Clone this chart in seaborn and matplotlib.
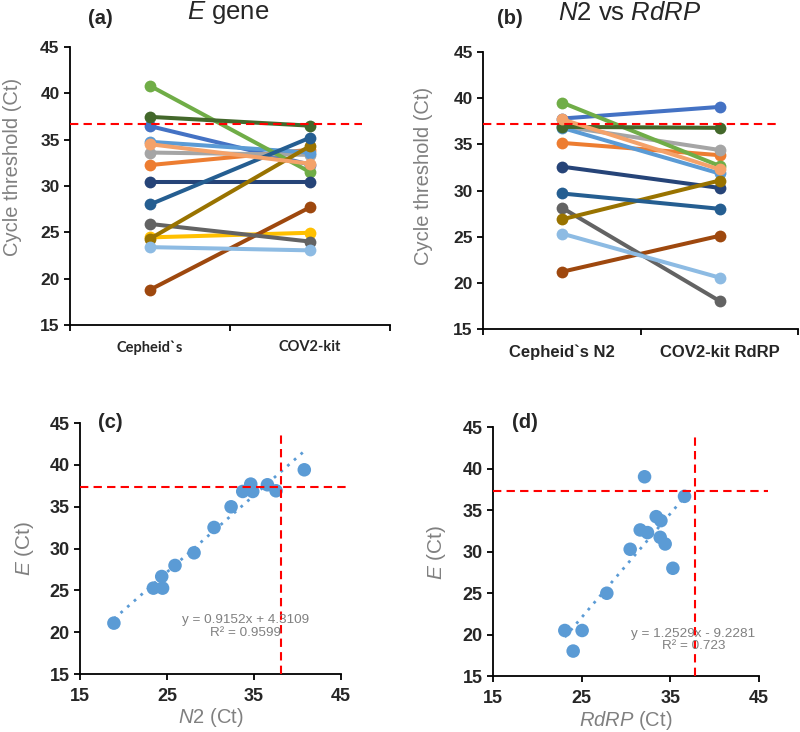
import numpy as np
import pandas as pd
import matplotlib.pyplot as plt
import seaborn as sns

sns.set_style("ticks")
plt.rcParams["font.family"] = ["Liberation Sans", "DejaVu Sans"]
plt.rcParams["mathtext.fontset"] = "custom"
plt.rcParams["mathtext.it"] = "Liberation Sans:italic"
plt.rcParams["mathtext.rm"] = "Liberation Sans"

# ---------------------------------------------------------------------------
# Data
# ---------------------------------------------------------------------------

# paired Ct values, series in Excel colour order (draw order)
E_COLORS = ["#4472c4", "#ed7d31", "#a5a5a5", "#ffc000", "#5b9bd5", "#70ad47",
            "#264478", "#9e480e", "#636363", "#997300", "#255e91", "#43682b",
            "#f4a26a", "#8dbbe3"]
E_CEPHEID = [36.45, 32.25, 33.6, 24.45, 34.76, 40.8, 30.4, 18.8, 25.9, 24.3,
             28.0, 37.45, 34.5, 23.4]
E_COV2KIT = [32.3, 33.9, 33.35, 24.95, 33.6, 31.5, 30.4, 27.7, 24.0, 34.3,
             35.2, 36.5, 32.4, 23.05]

N2_COLORS = ["#4472c4", "#ed7d31", "#a5a5a5", "#5b9bd5", "#70ad47", "#264478",
             "#9e480e", "#636363", "#997300", "#255e91", "#43682b", "#f4a26a",
             "#8dbbe3"]
N2_CEPHEID = [37.8, 35.17, 36.97, 36.8, 39.53, 32.6, 21.23, 28.15, 26.9, 29.7,
              36.9, 37.73, 25.36]
RDRP_COV2KIT = [39.06, 33.84, 34.4, 31.86, 32.68, 30.3, 25.12, 18.07, 31.1,
                28.04, 36.8, 32.3, 20.6]

E_LABELS = ["Cepheid`s", "COV2-kit"]
N2_LABELS = ["Cepheid`s N2", "COV2-kit RdRP"]

# scatter (c)
C_X = [18.9, 23.44, 24.5, 24.4, 25.93, 28.12, 30.42, 32.38, 33.72, 34.64,
       34.87, 36.56, 37.55, 40.8]
C_Y = [21.1, 25.28, 25.28, 26.67, 27.99, 29.5, 32.53, 35.0, 36.83, 37.71,
       36.83, 37.63, 36.91, 39.42]
C_SLOPE, C_INTERCEPT = 0.9152, 4.3109

# scatter (d)
D_X = [32.09, 36.59, 33.4, 33.93, 31.6, 32.42, 33.85, 34.41, 30.47, 35.28,
       27.84, 23.11, 25.06, 24.05]
D_Y = [39.06, 36.7, 34.25, 33.77, 32.65, 32.33, 31.76, 30.96, 30.32, 28.03,
       25.02, 20.53, 20.53, 18.05]
D_SLOPE, D_INTERCEPT = 1.2529, -9.2281

# cut-off lines
A_CUT = 36.73
B_CUT = 37.2
C_HCUT, C_VCUT = 37.31, 38.13
D_HCUT, D_VCUT = 37.3, 37.76

GRAY = "#808080"
RED = "#ff0000"
DOT_BLUE = "#5b9bd5"


def paired_frame(left, right):
    rows = []
    for i, (a, b) in enumerate(zip(left, right)):
        rows.append({"sample": i, "pos": 0.5, "ct": a})
        rows.append({"sample": i, "pos": 1.5, "ct": b})
    return pd.DataFrame(rows)


def style_axes(ax, size):
    sns.despine(ax=ax)
    for s in ("left", "bottom"):
        ax.spines[s].set_color("black")
        ax.spines[s].set_linewidth(1.3)
    ax.tick_params(axis="both", which="major", direction="out", length=4,
                   width=1.3, color="black", labelsize=size)
    for lab in ax.get_yticklabels() + ax.get_xticklabels():
        lab.set_fontweight("bold")


def paired_panel(ax, left, right, colors, labels, cut, cut_end, label_font,
                 label_size):
    df = paired_frame(left, right)
    sns.lineplot(data=df, x="pos", y="ct", hue="sample",
                 hue_order=list(range(len(left))), palette=colors,
                 marker="o", markersize=8.5, markeredgewidth=0, linewidth=2.9,
                 legend=False, errorbar=None, ax=ax)
    ax.plot([0, cut_end], [cut, cut], ls=(0, (4, 2.5)), color=RED, lw=1.5,
            zorder=5)
    ax.set_xlim(0, 2)
    ax.set_ylim(15, 45)
    ax.set_yticks(range(15, 46, 5))
    ax.set_xticks([0, 1, 2])
    ax.set_xticklabels([])
    ax.set_xticks([0.5, 1.5], minor=True)
    ax.set_xticklabels(labels, minor=True, fontweight="bold",
                       family=label_font, fontsize=label_size)
    ax.tick_params(axis="x", which="minor", length=0, pad=11)
    ax.set_xlabel("")
    ax.set_ylabel("Cycle threshold (Ct)", color=GRAY, fontsize=14.5)
    style_axes(ax, 12.5)


def scatter_panel(ax, xs, ys, slope, intercept, hcut, vcut, xlabel, eq, r2,
                  eq_xy):
    xs = np.asarray(xs)
    fit_x = np.array([xs.min(), xs.max()])
    ax.plot(fit_x, slope * fit_x + intercept, ls=(0, (1, 2.2)), color=DOT_BLUE,
            lw=2, zorder=2)
    sns.scatterplot(x=xs, y=ys, color=DOT_BLUE, s=95, edgecolor="none",
                    ax=ax, zorder=3)
    ax.plot([15, 46], [hcut, hcut], ls=(0, (4, 2.5)), color=RED, lw=1.5,
            clip_on=False, zorder=4)
    ax.plot([vcut, vcut], [15, 44], ls=(0, (4, 2.5)), color=RED, lw=1.5,
            zorder=4)
    ax.set_xlim(15, 45)
    ax.set_ylim(15, 45)
    ax.set_xticks(range(15, 46, 10))
    ax.set_yticks(range(15, 46, 5))
    ax.set_xlabel(xlabel, color=GRAY, fontsize=14.5, labelpad=1)
    ax.set_ylabel("$\\it{E}$ (Ct)", color=GRAY, fontsize=15, labelpad=10)
    ax.text(eq_xy[0], eq_xy[1], eq + "\n" + r2, color=GRAY, fontsize=9.7,
            ha="center", va="center", linespacing=1.05, zorder=5)
    style_axes(ax, 13)
    ax.tick_params(axis="x", pad=6)


fig = plt.figure(figsize=(8, 7.32), dpi=100)
ax_a = fig.add_axes([0.0875, 0.556, 0.40, 0.38])
ax_b = fig.add_axes([0.604, 0.550, 0.394, 0.379])
ax_c = fig.add_axes([0.100, 0.079, 0.326, 0.343])
ax_d = fig.add_axes([0.616, 0.076, 0.333, 0.340])

paired_panel(ax_a, E_CEPHEID, E_COV2KIT, E_COLORS, E_LABELS, A_CUT, 1.825,
             "Lato", 10.5)
paired_panel(ax_b, N2_CEPHEID, RDRP_COV2KIT, N2_COLORS, N2_LABELS, B_CUT, 1.86,
             "Liberation Sans", 12)
ax_a.yaxis.set_label_coords(-0.15, 0.568)
ax_b.yaxis.set_label_coords(-0.16, 0.552)

scatter_panel(ax_c, C_X, C_Y, C_SLOPE, C_INTERCEPT, C_HCUT, C_VCUT,
              "$\\it{N2}$ (Ct)", "y = 0.9152x + 4.3109", "R² = 0.9599",
              (34.0, 20.7))
scatter_panel(ax_d, D_X, D_Y, D_SLOPE, D_INTERCEPT, D_HCUT, D_VCUT,
              "$\\it{RdRP}$ (Ct)", "y = 1.2529x - 9.2281", "R² = 0.723",
              (37.6, 19.4))

# panel letters and titles
fig.text(100 / 800, 1 - 18 / 732, "(a)", fontsize=14.5, fontweight="bold",
         ha="center", va="center")
fig.text(228 / 800, 1 - 13 / 732, "$\\it{E}$ gene", fontsize=18.5,
         ha="center", va="center")
fig.text(510 / 800, 1 - 18 / 732, "(b)", fontsize=14.5, fontweight="bold",
         ha="center", va="center")
fig.text(630 / 800, 1 - 13 / 732, "$\\it{N2}$ vs $\\it{RdRP}$", fontsize=18.5,
         ha="center", va="center")
fig.text(110 / 800, 1 - 423 / 732, "(c)", fontsize=14.5, fontweight="bold",
         ha="center", va="center")
fig.text(525 / 800, 1 - 423 / 732, "(d)", fontsize=14.5, fontweight="bold",
         ha="center", va="center")

fig.savefig("out.png", dpi=100)
